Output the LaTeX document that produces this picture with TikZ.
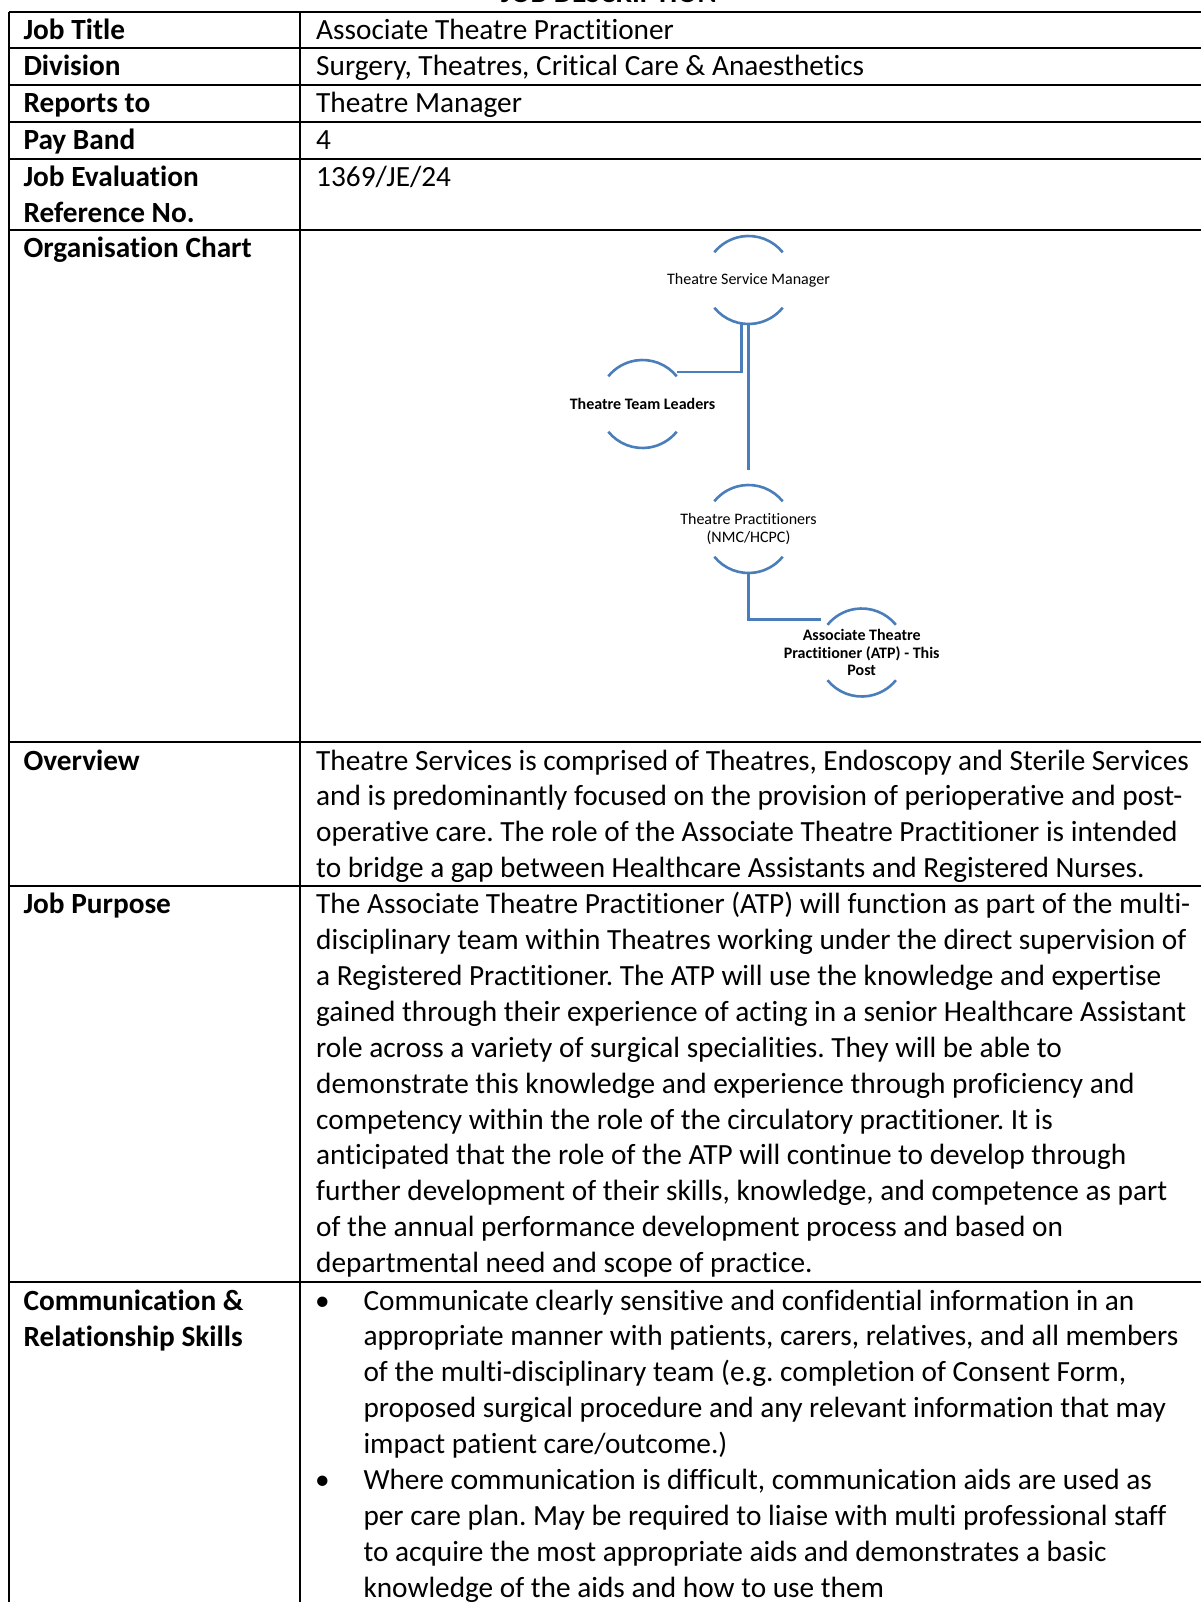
\documentclass[tikz,border=0pt]{standalone}
\usepackage{fontspec}
\setmainfont{Carlito}[Ligatures=NoCommon]
\frenchspacing
\definecolor{orgblue}{RGB}{74,126,187}
\newcommand{\bodyfont}{\fontsize{29.3}{36}\selectfont}
\newcommand{\orgfont}{\fontsize{16}{17.6}\selectfont}
\tikzset{
  rule/.style={line width=1.8},
  cell/.style={anchor=base west, inner sep=0, font=\bodyfont},
  head/.style={cell, font=\bodyfont\bfseries},
  orgtext/.style={inner sep=0, align=center, font=\orgfont},
  orgline/.style={draw=orgblue, line width=2.6},
}

\begin{document}
\begin{tikzpicture}[x=1pt,y=1pt]
\useasboundingbox (0,0) rectangle (1200,-1602);
\fill[white] (0,0) rectangle (1200,-1602);

% title, cut off by the page top
\node[head, anchor=base] (hdr) at (609,-2.7) {JOB DESCRIPTION};

% table rules
\foreach \y in {11.7,48.3,85,122.3,159.3,230,742.3,885.7,1281.7}
  \draw[rule] (9.3,-\y) -- (1210,-\y);
\draw[rule] (9.3,-11.7) -- (9.3,-1610);
\draw[rule] (300,-11.7) -- (300,-1610);

% left column
\foreach \t/\y [count=\i] in {Job Title/39.3, Division/76, Reports to/113, Pay Band/149.3,
    Job Evaluation/186.7, Reference No./222.7, Organisation Chart/257.6, Overview/770,
    Job Purpose/913.3, Communication \&/1310, Relationship Skills/1346}
  \node[head] (lab\i) at (23.3,-\y) {\t};

% short entries
\node[cell] (title) at (316,-39.3) {Associate Theatre Practitioner};
\node[cell] (division) at (316,-76) {Surgery, Theatres, Critical Care \& Anaesthetics};
\node[cell] (reports) at (316,-113) {Theatre Manager};
\node[cell] (band) at (316,-149.3) {4};
\node[cell] (jeref) at (316,-186.7) {1369/JE/24};

% organisation chart
\node[orgtext] (tsm) at (748.5,-280) {Theatre Service Manager};
\node[orgtext, font=\orgfont\bfseries] (ttl) at (642.5,-404) {Theatre Team Leaders};
\node[orgtext] (tp) at (748.5,-529) {Theatre Practitioners\\(NMC/HCPC)};
\node[orgtext, font=\orgfont\bfseries] (atp) at (861.7,-652.5) {Associate Theatre\\Practitioner (ATP) - This\\Post};
\foreach \n in {tsm,ttl,tp,atp} {
  \draw[orgline] ([shift={(39:44)}]\n.center) arc[start angle=39, end angle=141, radius=44];
  \draw[orgline] ([shift={(219:44)}]\n.center) arc[start angle=219, end angle=321, radius=44];
}
\draw[orgline] ([xshift=-7,yshift=-44]tsm.center) |- ([shift={(39:44)},yshift=4.5]ttl.center);
\draw[orgline] ([yshift=-44]tsm.center) -- ([yshift=59]tp.center);
\draw[orgline] ([yshift=-44]tp.center) |- ([shift={(141:44)},xshift=-7,yshift=5.5]atp.center);

% overview
\foreach \t [count=\i from 0] in {
    {Theatre Services is comprised of Theatres, Endoscopy and Sterile Services},
    {and is predominantly focused on the provision of perioperative and post-},
    {operative care. The role of the Associate Theatre Practitioner is intended},
    {to bridge a gap between Healthcare Assistants and Registered Nurses.}}
  \node[cell] (ov\i) at (316,-770-35.95*\i) {\t};

% job purpose
\foreach \t [count=\i from 0] in {
    {The Associate Theatre Practitioner (ATP) will function as part of the multi-},
    {disciplinary team within Theatres working under the direct supervision of},
    {a Registered Practitioner. The ATP will use the knowledge and expertise},
    {gained through their experience of acting in a senior Healthcare Assistant},
    {role across a variety of surgical specialities. They will be able to},
    {demonstrate this knowledge and experience through proficiency and},
    {competency within the role of the circulatory practitioner. It is},
    {anticipated that the role of the ATP will continue to develop through},
    {further development of their skills, knowledge, and competence as part},
    {of the annual performance development process and based on},
    {departmental need and scope of practice.}}
  \node[cell] (jp\i) at (316,-913.3-35.95*\i) {\t};

% communication bullets
\node[cell] (bul1) at (315,-1310) {\textbullet};
\node[cell] (bul2) at (315,-1489.75) {\textbullet};
\foreach \t [count=\i from 0] in {
    {Communicate clearly sensitive and confidential information in an},
    {appropriate manner with patients, carers, relatives, and all members},
    {of the multi-disciplinary team (e.g. completion of Consent Form,},
    {proposed surgical procedure and any relevant information that may},
    {impact patient care/outcome.)},
    {Where communication is difficult, communication aids are used as},
    {per care plan. May be required to liaise with multi professional staff},
    {to acquire the most appropriate aids and demonstrates a basic},
    {knowledge of the aids and how to use them}}
  \node[cell] (cm\i) at (363.3,-1310-35.95*\i) {\t};
\end{tikzpicture}
\end{document}
